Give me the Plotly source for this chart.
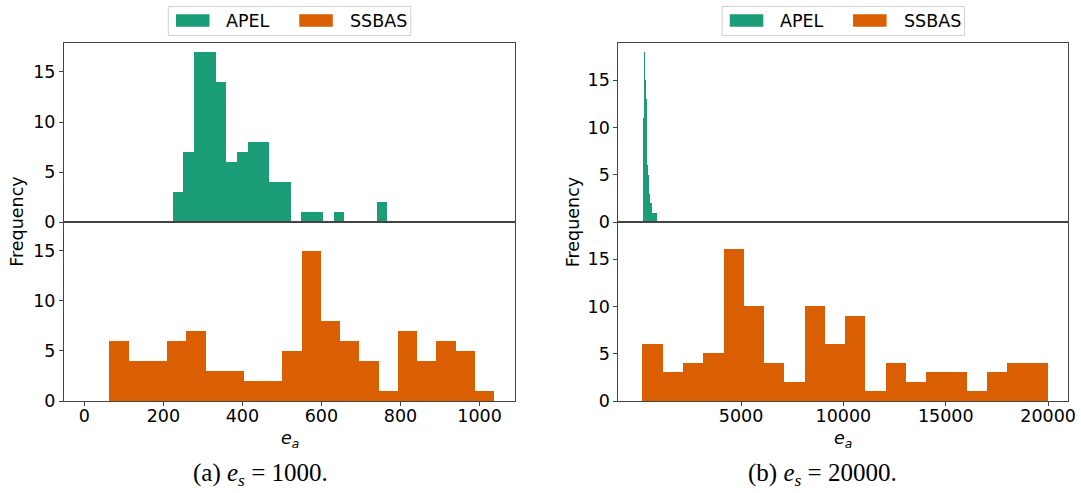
import numpy as np
import plotly.graph_objects as go

# ---- data: histogram counts (20 bins each) and the value range each histogram covers ----
apel_1000_counts = [3, 7, 17, 17, 14, 6, 7, 8, 8, 4, 4, 0, 1, 1, 0, 1, 0, 0, 0, 2]
apel_1000_range = [223.7, 766.7]
ssbas_1000_counts = [6, 4, 4, 6, 7, 3, 3, 2, 2, 5, 15, 8, 6, 4, 1, 7, 4, 6, 5, 1]
ssbas_1000_range = [63.3, 1036.7]

apel_20000_counts = [11, 18, 15, 13, 10, 6, 5, 4, 3, 2, 2, 2, 2, 1, 1, 1, 0, 1, 0, 1]
apel_20000_range = [259.0, 879.0]
ssbas_20000_counts = [6, 3, 4, 5, 16, 10, 4, 2, 10, 6, 9, 1, 4, 2, 3, 3, 1, 3, 4, 4]
ssbas_20000_range = [195.0, 20010.0]

series_names = ["APEL", "SSBAS"]
captions = ["(a) <i>e</i><sub><i>s</i></sub> = 1000.", "(b) <i>e</i><sub><i>s</i></sub> = 20000."]
x_ticks_1000 = [0, 200, 400, 600, 800, 1000]
x_ticks_20000 = [5000, 10000, 15000, 20000]
y_ticks = [0, 5, 10, 15]

GREEN = "#1b9e77"
ORANGE = "#d95f02"
SPINE = "#444444"
W, H = 1081, 493


def px(x):
    return x / W


def py(y):
    return 1 - y / H


def hist_bar(counts, value_range, color, xa, ya, name):
    edges = np.linspace(value_range[0], value_range[1], len(counts) + 1)
    centers = (edges[:-1] + edges[1:]) / 2
    width = edges[1] - edges[0]
    return go.Bar(
        x=centers, y=counts, width=width, name=name,
        marker=dict(color=color, line=dict(width=0)),
        xaxis=xa, yaxis=ya, showlegend=False,
        hovertemplate="%{x:.0f}: %{y}<extra>" + name + "</extra>",
    )


fig = go.Figure()
fig.add_trace(hist_bar(apel_1000_counts, apel_1000_range, GREEN, "x", "y", series_names[0]))
fig.add_trace(hist_bar(ssbas_1000_counts, ssbas_1000_range, ORANGE, "x2", "y2", series_names[1]))
fig.add_trace(hist_bar(apel_20000_counts, apel_20000_range, GREEN, "x3", "y3", series_names[0]))
fig.add_trace(hist_bar(ssbas_20000_counts, ssbas_20000_range, ORANGE, "x4", "y4", series_names[1]))

# panel geometry (pixels)
left_dom = [px(64), px(515)]
right_dom = [px(618.3), px(1068.3)]
top_dom = [py(222.3), py(43.3)]
bot_dom = [py(401), py(222.3)]

FS = 17.5
axis_font = dict(family="DejaVu Sans", size=FS, color="black")
common_x = dict(showline=True, linecolor=SPINE, linewidth=1, mirror=True, automargin=False,
                showgrid=False, zeroline=False, tickfont=axis_font, tickformat="d")
common_y = dict(showline=True, linecolor=SPINE, linewidth=1, mirror=True, automargin=False,
                showgrid=False, zeroline=False, tickfont=axis_font,
                ticks="outside", ticklen=4, tickcolor=SPINE, tickvals=y_ticks)
bottom_x = dict(ticks="outside", ticklen=4, tickcolor=SPINE, ticklabelstandoff=-5)

xr_1000 = [-51.4, 1089.8]
xr_20000 = [-997, 20987]
yr_1000 = [0, 1.05 * max(max(apel_1000_counts), max(ssbas_1000_counts))]
yr_20000 = [0, 1.05 * max(max(apel_20000_counts), max(ssbas_20000_counts))]

fig.update_layout(
    width=W, height=H, autosize=False,
    margin=dict(l=0, r=0, t=0, b=0),
    paper_bgcolor="white", plot_bgcolor="white",
    bargap=0,
    xaxis=dict(domain=left_dom, anchor="y", range=xr_1000, showticklabels=False, ticks="", **common_x),
    yaxis=dict(domain=top_dom, anchor="x", range=yr_1000, **common_y),
    xaxis2=dict(domain=left_dom, anchor="y2", range=xr_1000, tickvals=x_ticks_1000,
                **bottom_x, **common_x),
    yaxis2=dict(domain=bot_dom, anchor="x2", range=yr_1000, **common_y),
    xaxis3=dict(domain=right_dom, anchor="y3", range=xr_20000, showticklabels=False, ticks="", **common_x),
    yaxis3=dict(domain=top_dom, anchor="x3", range=yr_20000, **common_y),
    xaxis4=dict(domain=right_dom, anchor="y4", range=xr_20000, tickvals=x_ticks_20000,
                **bottom_x, **common_x),
    yaxis4=dict(domain=bot_dom, anchor="x4", range=yr_20000, **common_y),
)

shapes = []
annotations = []

for cx, ylab_x, cap_x, cap in [(289.5, 17.5, 260, captions[0]), (843.3, 573, 822, captions[1])]:
    # axis titles
    annotations.append(dict(x=px(cx), y=py(439), xref="paper", yref="paper",
                            text="<i>e</i><sub><i>a</i></sub>", showarrow=False,
                            font=axis_font, xanchor="center", yanchor="middle"))
    annotations.append(dict(x=px(ylab_x), y=py(222.3), xref="paper", yref="paper",
                            text="Frequency", showarrow=False, textangle=-90,
                            font=axis_font, xanchor="center", yanchor="middle"))
    # sub-figure caption
    annotations.append(dict(x=px(cap_x), y=py(474), xref="paper", yref="paper",
                            text=cap, showarrow=False,
                            font=dict(family="Liberation Serif", size=25, color="black"),
                            xanchor="center", yanchor="middle"))
    # legend box above each panel
    bl = cx - 121.2
    br = cx + 121.2
    shapes.append(dict(type="rect", xref="paper", yref="paper",
                       x0=px(bl), x1=px(br), y0=py(35.5), y1=py(6.5),
                       line=dict(color="#d0d0d0", width=1), fillcolor="white"))
    for off, color, name, toff in [(7.7, GREEN, series_names[0], 55.7),
                                    (131.0, ORANGE, series_names[1], 179.7)]:
        shapes.append(dict(type="rect", xref="paper", yref="paper",
                           x0=px(bl + off), x1=px(bl + off + 33.5), y0=py(26.7), y1=py(14.3),
                           line=dict(width=0), fillcolor=color))
        annotations.append(dict(x=px(bl + toff), y=py(20.7), xref="paper", yref="paper",
                                text=name, showarrow=False, font=axis_font,
                                xanchor="left", yanchor="middle"))

fig.update_layout(shapes=shapes, annotations=annotations)

fig.write_html("out.html")
